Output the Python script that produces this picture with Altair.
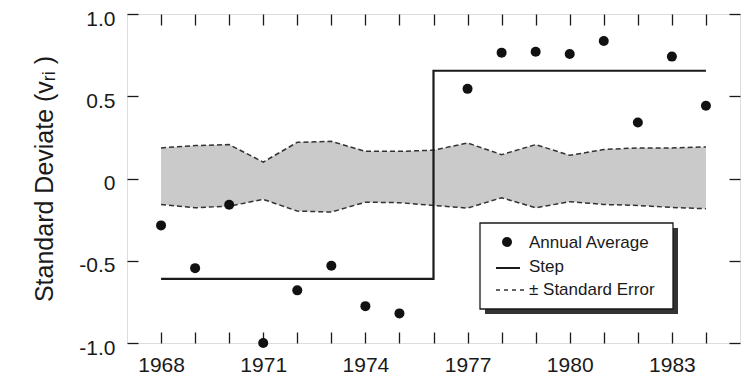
import altair as alt
import pandas as pd

# ---- data ----
pt_years = [1968, 1969, 1970, 1971, 1972, 1973, 1974, 1975,
            1977, 1978, 1979, 1980, 1981, 1982, 1983, 1984]
pt_values = [-0.285, -0.545, -0.16, -1.0, -0.68, -0.53, -0.776, -0.82,
             0.545, 0.765, 0.77, 0.757, 0.836, 0.34, 0.741, 0.442]

step_years = [1968, 1976, 1976, 1984]
step_values = [-0.61, -0.61, 0.655, 0.655]

band_years = list(range(1968, 1985))
band_upper = [0.186, 0.200, 0.206, 0.100, 0.220, 0.226, 0.165, 0.165, 0.172,
              0.216, 0.145, 0.206, 0.141, 0.176, 0.186, 0.186, 0.192]
band_lower = [-0.158, -0.178, -0.168, -0.127, -0.198, -0.204, -0.144, -0.147,
              -0.164, -0.180, -0.117, -0.178, -0.141, -0.158, -0.164, -0.176, -0.184]

x_ticks = list(range(1968, 1985))
y_ticks = [-1.0, -0.5, 0.0, 0.5, 1.0]
legend_labels = ["Annual Average", "Step", "\u00b1 Standard Error"]
y_title = "Standard Deviate (v\u1d63\u1d62 )"

FONT = "Liberation Sans"
INK = "#1a1a1a"

pts = pd.DataFrame({"year": pt_years, "value": pt_values})
step = pd.DataFrame({"year": step_years, "value": step_values, "order": list(range(len(step_years)))})
band = pd.DataFrame({"year": band_years, "upper": band_upper, "lower": band_lower})

xscale = alt.Scale(domain=[1967, 1985], nice=False, zero=False)
yscale = alt.Scale(domain=[-1, 1], nice=False, zero=False)

x_label_expr = "(datum.value - 1968) % 3 == 0 ? format(datum.value, 'd') : ''"
y_label_expr = ("datum.value == 0 ? '0' : (datum.value < 0 ? '-' + format(-datum.value, '.1f') "
                ": format(datum.value, '.1f'))")

x_axis_bottom = alt.Axis(orient="bottom", values=x_ticks, labelExpr=x_label_expr, offset=-11, tickSize=11,
                         domain=False, grid=False, title=None, labelFontSize=21, labelFont=FONT,
                         labelColor=INK, tickColor=INK, tickWidth=1.3, labelPadding=11,
                         labelFlush=False, labelOverlap=False)
y_axis_left = alt.Axis(orient="left", values=y_ticks, labelExpr=y_label_expr, offset=-11, tickSize=11,
                       domain=False, grid=False, title=y_title, titleFontSize=25, titleFont=FONT,
                       titleFontWeight="normal", titleColor=INK, titlePadding=21,
                       labelFontSize=21, labelFont=FONT, labelColor=INK, tickColor=INK,
                       tickWidth=1.3, labelPadding=12, labelOffset=5,
                       labelFlush=False, labelOverlap=False)
x_axis_top = alt.Axis(orient="top", values=x_ticks, labels=False, offset=-11, tickSize=11,
                      domain=False, grid=False, title=None, tickColor=INK, tickWidth=1.3)
y_axis_right = alt.Axis(orient="right", values=y_ticks, labels=False, offset=-11, tickSize=11,
                        domain=False, grid=False, title=None, tickColor=INK, tickWidth=1.3)

def X(field, axis=None):
    return alt.X(field, scale=xscale, axis=axis)

def Y(field, axis=None):
    return alt.Y(field, scale=yscale, axis=axis)

area = alt.Chart(band).mark_area(color="#cacaca", opacity=1).encode(
    x=X("year:Q", x_axis_top),
    y=Y("upper:Q", y_axis_right),
    y2="lower:Q",
)
upper_line = alt.Chart(band).mark_line(color="#333333", strokeWidth=1.5, strokeDash=[5, 3]).encode(
    x=X("year:Q"), y=Y("upper:Q"))
lower_line = alt.Chart(band).mark_line(color="#333333", strokeWidth=1.5, strokeDash=[5, 3]).encode(
    x=X("year:Q"), y=Y("lower:Q"))

step_line = alt.Chart(step).mark_line(color=INK, strokeWidth=2.2).encode(
    x=X("year:Q"), y=Y("value:Q"), order="order:Q")

points = alt.Chart(pts).mark_circle(color="#111111", size=100, opacity=1).encode(
    x=X("year:Q", x_axis_bottom),
    y=Y("value:Q", y_axis_left),
)

one = pd.DataFrame({"k": [0]})
leg_shadow = alt.Chart(one).mark_rect(color="#333333").encode(
    x=alt.value(358), x2=alt.value(551), y=alt.value(214), y2=alt.value(300))
leg_box = alt.Chart(one).mark_rect(fill="white", stroke=INK, strokeWidth=1.3).encode(
    x=alt.value(353), x2=alt.value(546), y=alt.value(209), y2=alt.value(295))
leg_dot = alt.Chart(one).mark_circle(color="#111111", size=100, opacity=1).encode(
    x=alt.value(380), y=alt.value(228))
leg_step = alt.Chart(one).mark_rule(color=INK, strokeWidth=2).encode(
    x=alt.value(369), x2=alt.value(393), y=alt.value(254))
leg_dash = alt.Chart(one).mark_rule(color="#333333", strokeWidth=1.5, strokeDash=[4, 4]).encode(
    x=alt.value(369), x2=alt.value(397), y=alt.value(276))

def leg_text(i, ypos):
    df = pd.DataFrame({"label": [legend_labels[i]]})
    return alt.Chart(df).mark_text(align="left", baseline="middle", fontSize=17, font=FONT,
                                   color=INK).encode(
        x=alt.value(402), y=alt.value(ypos), text="label:N")

chart = alt.layer(
    area, upper_line, lower_line, step_line, points,
    leg_shadow, leg_box, leg_dot, leg_step, leg_dash,
    leg_text(0, 229), leg_text(1, 253), leg_text(2, 276),
).resolve_axis(x="independent", y="independent").properties(
    width=613, height=329,
    autosize=alt.AutoSizeParams(type="none"),
    padding={"left": 119, "top": 6, "right": 2, "bottom": 35},
).configure_view(stroke=INK, strokeWidth=1.5).configure(background="white")

chart.save("out.html", embed_options={"renderer": "svg", "actions": False})
